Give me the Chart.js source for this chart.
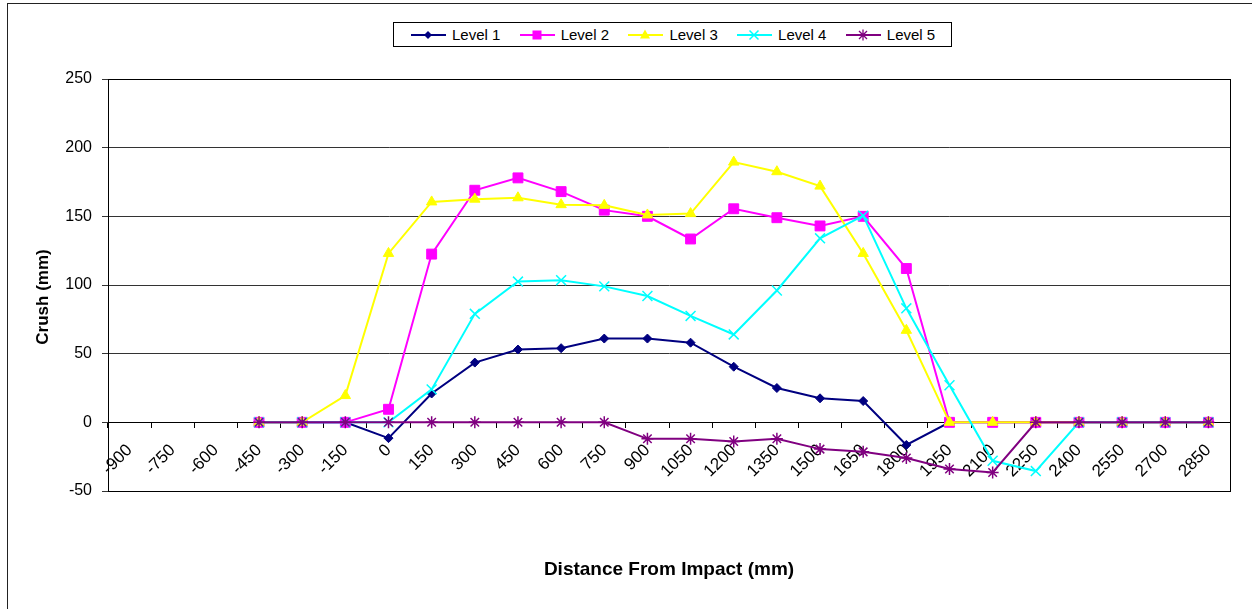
<!DOCTYPE html>
<html>
<head>
<meta charset="utf-8">
<script src="https://cdn.jsdelivr.net/npm/chart.js@4.4.1/dist/chart.umd.min.js"></script>
<style>
  body { margin: 0; background: #fff; font-family: "Liberation Sans", Arial, sans-serif; }
  #wrap { position: relative; width: 1252px; height: 609px; overflow: hidden; }
  #frame { position: absolute; left: 7px; top: 3px; width: 1400px; height: 800px;
    border-left: 1px solid #222; border-top: 1px solid #222; }
  #legend { position: absolute; left: 393px; top: 22px; width: 557px; height: 23px;
    border: 1px solid #000; background: #fff; }
  .item { position: absolute; top: 0; height: 23px; display: flex; align-items: center;
    font-size: 15px; color: #000; }
  .item svg { margin-right: 6px; }
  canvas { position: absolute; left: 0; top: 0; }
</style>
</head>
<body>
<div id="wrap">
  <div id="frame"></div>
  <canvas id="chart" width="1252" height="609"></canvas>
  <div id="legend"></div>
</div>
<script>
// x categories (mm from impact)
const distance = ['-900', '-750', '-600', '-450', '-300', '-150', '0', '150', '300', '450', '600',
  '750', '900', '1050', '1200', '1350', '1500', '1650', '1800', '1950', '2100', '2250',
  '2400', '2550', '2700', '2850']

// crush values (mm)
const level1 = [null, null, null, 0, 0, 0, -11.5, 21, 43.5, 53, 54, 61, 61, 58, 40.5, 25, 17.5,
  15.5, -16.5, 0, 0, 0, 0, 0, 0, 0]
const level2 = [null, null, null, 0, 0, 0, 9.5, 122.5, 169, 178, 168, 154.5, 150, 133.5, 155.5,
  149, 143, 150, 112, 0, 0, 0, 0, 0, 0, 0]
const level3 = [null, null, null, 0, 0, 19.5, 123, 160.5, 162.5, 163.5, 158.5, 158, 151, 152,
  189.5, 182.5, 172, 123, 67, 0, 0, 0, 0, 0, 0, 0]
const level4 = [null, null, null, 0, 0, 0, 0, 24, 79, 102.5, 103.5, 99, 92, 77.5, 64, 96, 134,
  150.5, 83, 27, -28, -35.5, 0, 0, 0, 0]
const level5 = [null, null, null, 0, 0, 0, 0, 0, 0, 0, 0, 0, -12, -12, -14, -12, -19.5, -21.5,
  -26, -34, -36.5, 0, 0, 0, 0, 0]

const seriesNames = ['Level 1', 'Level 2', 'Level 3', 'Level 4', 'Level 5']
const yTicks = [-50, 0, 50, 100, 150, 200, 250]
const xTitle = 'Distance From Impact (mm)'
const yTitle = 'Crush (mm)'

const FONT = '"Liberation Sans", Arial, sans-serif'

const styles = [
  { color: '#000080', point: 'rectRot', radius: 4.5, fill: true },
  { color: '#FF00FF', point: 'rect', radius: 7, fill: true },
  { color: '#FFFF00', point: 'triangle', radius: 6, fill: true },
  { color: '#00FFFF', point: 'crossRot', radius: 7, fill: false },
  { color: '#800080', point: 'star', radius: 6, fill: false },
]

const allData = [level1, level2, level3, level4, level5]

const datasets = allData.map((data, i) => ({
  label: seriesNames[i],
  data: data,
  borderColor: styles[i].color,
  backgroundColor: styles[i].color,
  borderWidth: 2,
  pointStyle: styles[i].point,
  pointRadius: styles[i].radius,
  pointBorderWidth: styles[i].fill ? 1 : 1.5,
  pointBackgroundColor: styles[i].color,
  pointBorderColor: styles[i].color,
  tension: 0,
  spanGaps: false,
  order: 5 - i, // later series sit on top, like the original
}))

// box round the plot area + the two axis titles (centred on the plot, as Excel does)
const frameAndTitles = {
  id: 'frameAndTitles',
  afterDraw(chart) {
    const { ctx, chartArea: a } = chart
    ctx.save()
    ctx.strokeStyle = '#000'
    ctx.lineWidth = 1
    ctx.strokeRect(Math.round(a.left) + 0.5, Math.round(a.top) + 0.5,
      Math.round(a.right - a.left), Math.round(a.bottom - a.top))

    ctx.fillStyle = '#000'
    ctx.textAlign = 'center'
    ctx.textBaseline = 'middle'
    ctx.font = `bold 19px ${FONT}`
    ctx.fillText(xTitle, (a.left + a.right) / 2, 570)

    ctx.font = `bold 17px ${FONT}`
    ctx.translate(43, 297)
    ctx.rotate(-Math.PI / 2)
    ctx.fillText(yTitle, 0, 0)
    ctx.restore()
  },
}

new Chart(document.getElementById('chart'), {
  type: 'line',
  data: { labels: distance, datasets: datasets },
  plugins: [frameAndTitles],
  options: {
    responsive: false,
    animation: false,
    devicePixelRatio: 1,
    layout: { padding: { left: 8, right: 22, top: 79, bottom: 118 } },
    plugins: {
      legend: { display: false },
      tooltip: { enabled: false },
    },
    scales: {
      x: {
        type: 'category',
        position: { y: 0 },
        offset: true,
        grid: { offset: true, drawOnChartArea: false, drawTicks: true, tickLength: 5, color: '#000' },
        border: { display: true, color: '#000', width: 1 },
        ticks: {
          autoSkip: false,
          minRotation: 45,
          maxRotation: 45,
          padding: 13,
          color: '#000',
          font: { family: FONT, size: 17 },
        },
      },
      y: {
        min: -50,
        max: 250,
        afterFit(scale) { scale.width = 100 },
        afterBuildTicks(scale) { scale.ticks = yTicks.map((v) => ({ value: v })) },
        grid: { color: '#333', tickLength: 6, drawTicks: true },
        border: { display: true, color: '#000' },
        ticks: { color: '#000', padding: 10, font: { family: FONT, size: 16 } },
      },
    },
  },
})

// legend: line with marker, then the name
function markerSvg(s) {
  const c = s.color
  let m = ''
  if (s.point === 'rectRot') m = `<polygon points="17,5 21,9 17,13 13,9" fill="${c}"/>`
  else if (s.point === 'rect') m = `<rect x="12.5" y="4.5" width="9" height="9" fill="${c}"/>`
  else if (s.point === 'triangle') m = `<polygon points="17,3.5 22,12.5 12,12.5" fill="${c}"/>`
  else if (s.point === 'crossRot') m = `<path d="M12.5 4.5L21.5 13.5M21.5 4.5L12.5 13.5" stroke="${c}" stroke-width="1.5"/>`
  else m = `<path d="M13 5L21 13M21 5L13 13M17 3.5V14.5M11.5 9H22.5" stroke="${c}" stroke-width="1.3"/>`
  return `<svg width="35" height="18" viewBox="0 0 35 18"><line x1="0" y1="9" x2="35" y2="9" stroke="${c}" stroke-width="2"/>${m}</svg>`
}

const legend = document.getElementById('legend')
legend.innerHTML = seriesNames
  .map((name, i) => `<div class="item" style="left:${17 + i * 108.7}px">${markerSvg(styles[i])}<span>${name}</span></div>`)
  .join('')
</script>
</body>
</html>
